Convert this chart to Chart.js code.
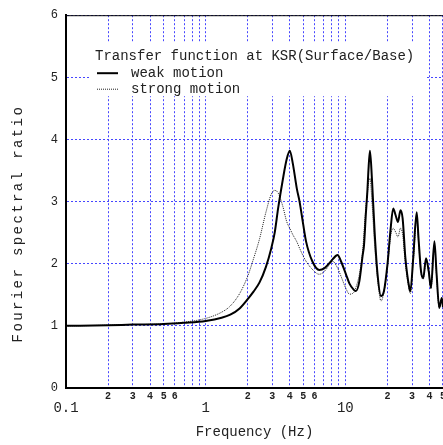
<!DOCTYPE html>
<html>
<head>
<meta charset="utf-8">
<script src="https://cdn.jsdelivr.net/npm/chart.js@4.4.1/dist/chart.umd.min.js"></script>
<style>
  html, body { margin: 0; padding: 0; background: #fff; overflow: hidden; }
  #wrap { position: absolute; left: 0; top: 0; width: 448px; height: 445px; }
</style>
</head>
<body>
<div id="wrap"><canvas id="ratioChart" width="448" height="445"></canvas></div>
<script>
// 周波数 (Hz)
const freqs = [0.1, 0.2, 0.3, 0.5, 0.7, 1.0, 1.3, 1.5, 1.75, 2.0, 2.2, 2.43, 2.7, 2.95, 3.12, 3.3, 3.57, 3.8, 4.0, 4.2,
  4.5, 4.7, 5.0, 5.23, 5.8, 6.5, 7.1, 7.9, 8.1, 8.8, 9.3, 10.1, 10.7, 11.5, 11.9, 12.6, 13.3, 13.6, 14.0, 14.4,
  14.6, 15.0, 15.5, 16.2, 17.0, 18.0, 18.9, 20.0, 21.1, 22.0, 22.9, 23.8, 24.8, 25.7, 26.9, 28.7, 29.2, 30.6, 32.4, 33.4,
  34.8, 36.1, 37.8, 39.5, 41.0, 43.4, 45.0, 47.0, 49.0, 50.0];
// weak motion (実線)
const weakMotion = [1.00, 1.01, 1.02, 1.03, 1.05, 1.08, 1.13, 1.18, 1.28, 1.43, 1.55, 1.70, 1.95, 2.25, 2.50, 2.89, 3.36, 3.68, 3.82, 3.62,
  3.20, 3.00, 2.62, 2.36, 2.04, 1.90, 1.93, 2.04, 2.07, 2.14, 2.04, 1.83, 1.68, 1.58, 1.56, 1.72, 2.14, 2.30, 2.78, 3.20,
  3.47, 3.82, 3.36, 2.51, 1.83, 1.48, 1.56, 1.98, 2.57, 2.89, 2.78, 2.67, 2.86, 2.73, 2.09, 1.61, 1.56, 2.09, 2.83, 2.41,
  1.88, 1.77, 2.09, 1.88, 1.61, 2.36, 1.83, 1.29, 1.45, 1.30];
// strong motion (点線)
const strongMotion = [1.00, 1.01, 1.02, 1.03, 1.06, 1.12, 1.22, 1.32, 1.52, 1.80, 2.08, 2.40, 2.83, 3.12, 3.18, 3.14, 2.92, 2.68, 2.57, 2.47,
  2.35, 2.25, 2.12, 2.04, 1.91, 1.83, 1.88, 2.02, 2.04, 1.93, 1.80, 1.60, 1.51, 1.54, 1.62, 1.83, 2.20, 2.51, 2.90, 3.15,
  3.28, 3.38, 3.00, 2.30, 1.75, 1.40, 1.55, 1.95, 2.45, 2.57, 2.51, 2.43, 2.57, 2.47, 2.00, 1.57, 1.52, 2.02, 2.70, 2.35,
  1.85, 1.75, 2.05, 1.85, 1.60, 2.30, 1.80, 1.28, 1.42, 1.28];

const xTicks = [0.1, 0.2, 0.3, 0.4, 0.5, 0.6, 0.7, 0.8, 0.9, 1, 2, 3, 4, 5, 6, 7, 8, 9, 10, 20, 30, 40, 50];
const xTickLabels = [['', '0.1'], '2', '3', '4', '5', '6', '', '', '', ['', '1'], '2', '3', '4', '5', '6', '', '', '', ['', '10'], '2', '3', '4', '5'];
const yTicks = [0, 1, 2, 3, 4, 5, 6];
const seriesNames = ['weak motion', 'strong motion'];
const chartTitle = 'Transfer function at KSR(Surface/Base)';
const xTitle = 'Frequency (Hz)';
const yTitle = 'Fourier spectral ratio';

const mono = '"Liberation Mono", "DejaVu Sans Mono", monospace';
const gridBlue = '#4646ff';

// 凡例・枠・縦軸タイトル
const framePlugin = {
  id: 'frame',
  beforeDatasetsDraw(chart) {
    const { ctx, chartArea: a } = chart;
    ctx.save();
    // 凡例の白い背景
    ctx.fillStyle = '#fff';
    ctx.fillRect(a.left + 24, a.top + 27, 337, 54);
    ctx.fillStyle = '#222';
    ctx.font = '14px ' + mono;
    ctx.textBaseline = 'middle';
    ctx.fillText(chartTitle, a.left + 29, a.top + 41);
    chart.data.datasets.forEach((ds, i) => {
      const y = a.top + 58 + i * 16;
      ctx.save();
      ctx.strokeStyle = ds.borderColor;
      ctx.lineWidth = ds.borderWidth;
      ctx.setLineDash(ds.borderDash || []);
      ctx.beginPath();
      ctx.moveTo(a.left + 31, y);
      ctx.lineTo(a.left + 52, y);
      ctx.stroke();
      ctx.restore();
      ctx.fillText(ds.label, a.left + 65, y);
    });
    // 上と右の枠
    ctx.lineWidth = 1;
    ctx.strokeStyle = '#000';
    ctx.beginPath();
    ctx.moveTo(a.left, a.top + 0.5);
    ctx.lineTo(a.right, a.top + 0.5);
    ctx.stroke();
    ctx.strokeStyle = '#888';
    ctx.beginPath();
    ctx.moveTo(a.right + 0.5, a.top);
    ctx.lineTo(a.right + 0.5, a.bottom);
    ctx.stroke();
    ctx.restore();
  },
  afterDraw(chart) {
    const { ctx, chartArea: a } = chart;
    ctx.save();
    ctx.translate(18, (a.top + a.bottom) / 2 + 22);
    ctx.rotate(-Math.PI / 2);
    ctx.font = '14px ' + mono;
    ctx.letterSpacing = '2.4px';
    ctx.fillStyle = '#222';
    ctx.textAlign = 'center';
    ctx.textBaseline = 'middle';
    ctx.fillText(yTitle, 0, 0);
    ctx.restore();
  }
};

const config = {
  type: 'line',
  data: {
    datasets: [
      {
        label: seriesNames[0],
        data: freqs.map((f, i) => ({ x: f, y: weakMotion[i] })),
        borderColor: '#000',
        borderWidth: 2,
        pointRadius: 0,
        cubicInterpolationMode: 'monotone'
      },
      {
        label: seriesNames[1],
        data: freqs.map((f, i) => ({ x: f, y: strongMotion[i] })),
        borderColor: '#222',
        borderWidth: 1,
        borderDash: [1, 1],
        pointRadius: 0,
        cubicInterpolationMode: 'monotone'
      }
    ]
  },
  options: {
    responsive: false,
    animation: false,
    layout: { padding: { top: 8, right: 0, left: 0, bottom: 0 } },
    plugins: {
      legend: { display: false },
      tooltip: { enabled: false }
    },
    scales: {
      x: {
        type: 'logarithmic',
        min: 0.1,
        max: 50,
        afterBuildTicks: scale => { scale.ticks = xTicks.map(v => ({ value: v })); },
        afterFit: scale => { scale.height = 57; },
        grid: { color: gridBlue, lineWidth: 1, drawTicks: false },
        border: { display: true, color: '#000', width: 2, dash: [2, 2] },
        ticks: {
          autoSkip: false,
          maxRotation: 0,
          padding: 2,
          color: '#222',
          font: ctx => Array.isArray(xTickLabels[ctx.index])
            ? { family: mono, size: 14, lineHeight: 0.85 }
            : { family: mono, size: 10, lineHeight: 1.2, weight: 'bold' },
          callback: (value, index) => xTickLabels[index]
        },
        title: {
          display: true,
          text: xTitle,
          color: '#222',
          font: { family: mono, size: 14, lineHeight: 1.2 },
          padding: { top: 0, bottom: 4 }
        }
      },
      y: {
        min: 0,
        max: 6,
        afterBuildTicks: scale => { scale.ticks = yTicks.map(v => ({ value: v })); },
        afterFit: scale => { scale.width = 66; },
        grid: { color: gridBlue, lineWidth: 1, drawTicks: false },
        border: { display: true, color: '#000', width: 2, dash: [2, 2] },
        ticks: {
          padding: 8,
          color: '#222',
          font: { family: mono, size: 12 },
          callback: value => String(value)
        }
      }
    }
  },
  plugins: [framePlugin]
};

const ctx = document.getElementById('ratioChart').getContext('2d');
new Chart(ctx, config);
</script>
</body>
</html>
